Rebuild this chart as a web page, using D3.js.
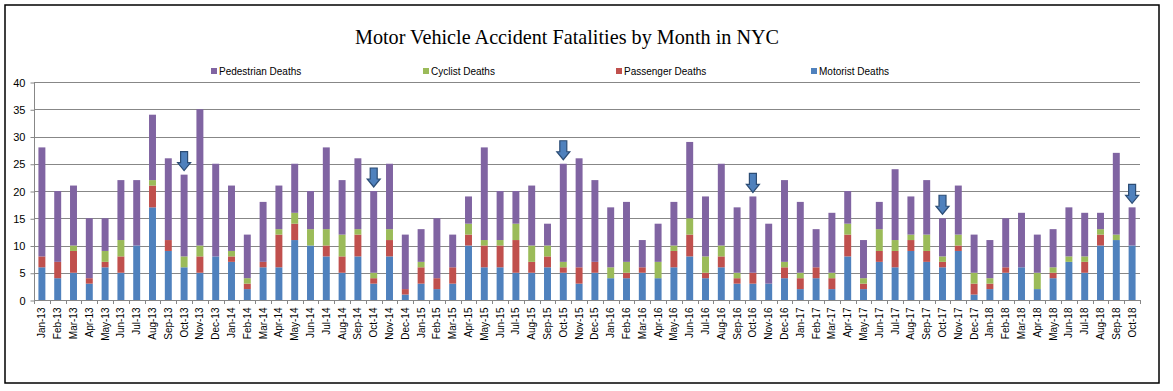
<!DOCTYPE html>
<html><head><meta charset="utf-8">
<script src="https://cdn.jsdelivr.net/npm/d3@7"></script>
<style>body{margin:0;background:#fff}svg{display:block}</style>
</head><body>
<script>
const months = ["Jan-13","Feb-13","Mar-13","Apr-13","May-13","Jun-13","Jul-13","Aug-13","Sep-13","Oct-13","Nov-13","Dec-13",
"Jan-14","Feb-14","Mar-14","Apr-14","May-14","Jun-14","Jul-14","Aug-14","Sep-14","Oct-14","Nov-14","Dec-14",
"Jan-15","Feb-15","Mar-15","Apr-15","May-15","Jun-15","Jul-15","Aug-15","Sep-15","Oct-15","Nov-15","Dec-15",
"Jan-16","Feb-16","Mar-16","Apr-16","May-16","Jun-16","Jul-16","Aug-16","Sep-16","Oct-16","Nov-16","Dec-16",
"Jan-17","Feb-17","Mar-17","Apr-17","May-17","Jun-17","Jul-17","Aug-17","Sep-17","Oct-17","Nov-17","Dec-17",
"Jan-18","Feb-18","Mar-18","Apr-18","May-18","Jun-18","Jul-18","Aug-18","Sep-18","Oct-18"];
const motorist =   [6,4,5,3,6,5,10,17,9,6,5,8, 7,2,6,6,11,10,8,5,8,3,8,1, 3,2,3,10,6,6,5,5,6,5,3,5, 4,4,5,4,6,8,4,6,3,3,3,4, 2,4,2,8,2,7,6,9,7,6,9,1, 2,5,6,2,4,7,5,10,11,10];
const passenger =  [2,3,4,1,1,3,0,4,2,0,3,0, 1,1,1,6,3,0,2,3,4,1,3,1, 3,2,3,2,4,4,6,2,2,1,3,2, 0,1,1,0,3,4,1,2,1,2,0,2, 2,2,2,4,1,2,3,2,2,1,1,2, 1,1,0,0,1,0,2,2,0,0];
const cyclist =    [0,0,1,0,2,3,0,1,0,2,2,0, 1,1,0,1,2,3,3,4,1,1,2,0, 1,0,0,2,1,1,3,3,2,1,0,0, 2,2,0,3,1,3,3,2,1,0,0,1, 1,0,1,2,1,4,2,1,3,1,2,2, 1,0,0,3,1,1,1,1,1,0];
const pedestrian = [20,13,11,11,6,11,12,12,15,15,25,17, 12,8,11,8,9,7,15,10,13,15,12,10, 6,11,6,5,17,9,6,11,4,18,20,15, 11,11,5,7,8,14,11,15,12,14,11,15, 13,7,11,6,7,5,13,7,10,7,9,7, 7,9,10,7,7,9,8,3,15,7];
const seriesNames = ["Motorist Deaths","Passenger Deaths","Cyclist Deaths","Pedestrian Deaths"];
const seriesColors = ["#4F81BD","#C0504D","#9BBB59","#8064A2"];
const yTicks = [0,5,10,15,20,25,30,35,40];
const arrowMonths = ["Oct-13","Oct-14","Oct-15","Oct-16","Oct-17","Oct-18"];
const titleText = "Motor Vehicle Accident Fatalities by Month in NYC";

const W = 1173, H = 391;
const svg = d3.select("body").append("svg").attr("width", W).attr("height", H);
svg.append("rect").attr("x",5).attr("y",5).attr("width",1154).attr("height",378)
  .attr("fill","#fff").attr("stroke","#000").attr("stroke-width",1.5);

const pLeft = 34, pRight = 1140, pTop = 82, pBottom = 300;
const x = d3.scaleBand().domain(months).range([pLeft, pRight]).paddingInner(0.56).paddingOuter(0.28);
const y = d3.scaleLinear().domain([0, 40]).range([pBottom, pTop]);

// gridlines
svg.append("g").selectAll("line").data(yTicks.filter(d => d > 0)).join("line")
  .attr("x1", pLeft).attr("x2", pRight).attr("y1", d => Math.round(y(d)) + 0.5).attr("y2", d => Math.round(y(d)) + 0.5)
  .attr("stroke", "#878787").attr("stroke-width", 1);

// stacked data
const table = months.map((m, i) => ({month: m, "Motorist Deaths": motorist[i], "Passenger Deaths": passenger[i], "Cyclist Deaths": cyclist[i], "Pedestrian Deaths": pedestrian[i]}));
const stacked = d3.stack().keys(seriesNames)(table);
svg.append("g").selectAll("g").data(stacked).join("g").attr("fill", (d, i) => seriesColors[i])
  .selectAll("rect").data(d => d).join("rect")
  .attr("x", d => x(d.data.month)).attr("width", x.bandwidth())
  .attr("y", d => y(d[1])).attr("height", d => y(d[0]) - y(d[1]));

// y axis
const yAxis = d3.axisLeft(y).tickValues(yTicks).tickSize(4).tickPadding(5);
const gy = svg.append("g").attr("transform", `translate(${pLeft + 0.5},0.5)`).call(yAxis);
gy.select(".domain").attr("stroke", "#878787").attr("d", `M0,${pBottom}V${pTop}`);
gy.selectAll(".tick line").attr("stroke", "#878787");
gy.selectAll(".tick text").attr("font-family", "'Liberation Sans', Arial, sans-serif").attr("font-size", 11).attr("fill", "#000");

// x axis
const xAxis = d3.axisBottom(x).tickSize(0).tickPadding(0);
const gx = svg.append("g").attr("transform", `translate(0,${pBottom + 0.5})`).call(xAxis);
gx.select(".domain").attr("stroke", "#878787").attr("d", `M${pLeft},0H${pRight}`);
gx.selectAll(".tick text").attr("font-family", "'Liberation Sans', Arial, sans-serif").attr("font-size", 10).attr("fill", "#000")
  .attr("transform", "rotate(-90)").attr("text-anchor", "end").attr("x", -7).attr("y", 0).attr("dy", "0.35em");
// category boundary ticks
svg.append("g").selectAll("line").data(d3.range(months.length + 1)).join("line")
  .attr("x1", i => Math.round(pLeft + i * x.step() + (x.range()[0] - pLeft)) + 0.5)
  .attr("x2", i => Math.round(pLeft + i * x.step() + (x.range()[0] - pLeft)) + 0.5)
  .attr("y1", pBottom).attr("y2", pBottom + 4).attr("stroke", "#878787");

// title
svg.append("text").attr("x", 567).attr("y", 44).attr("text-anchor", "middle")
  .attr("font-family", "'Liberation Serif', 'DejaVu Serif', serif").attr("font-size", 20.2).attr("fill", "#000").text(titleText);

// legend
const legendOrder = ["Pedestrian Deaths","Cyclist Deaths","Passenger Deaths","Motorist Deaths"];
const legendX = [211, 423, 616, 811];
const lg = svg.append("g").selectAll("g").data(legendOrder).join("g")
  .attr("transform", (d, i) => `translate(${legendX[i]},71)`);
lg.append("rect").attr("x", 0).attr("y", -3).attr("width", 6).attr("height", 6)
  .attr("fill", d => seriesColors[seriesNames.indexOf(d)]);
lg.append("text").attr("x", 8).attr("y", 0).attr("dy", "0.35em")
  .attr("font-family", "'Liberation Sans', Arial, sans-serif").attr("font-size", 10).attr("fill", "#000").text(d => d);

// arrows
const totals = months.map((m, i) => motorist[i] + passenger[i] + cyclist[i] + pedestrian[i]);
const arrowPath = "M-3.5,-19H3.5V-8H6.5L0,0L-6.5,-8H-3.5Z";
svg.append("g").selectAll("path").data(arrowMonths).join("path")
  .attr("transform", m => `translate(${x(m) + x.bandwidth() / 2},${y(totals[months.indexOf(m)]) - 4})`)
  .attr("d", arrowPath).attr("fill", "#4F81BD").attr("stroke", "#2C4D75").attr("stroke-width", 1.2);
</script>
</body></html>
